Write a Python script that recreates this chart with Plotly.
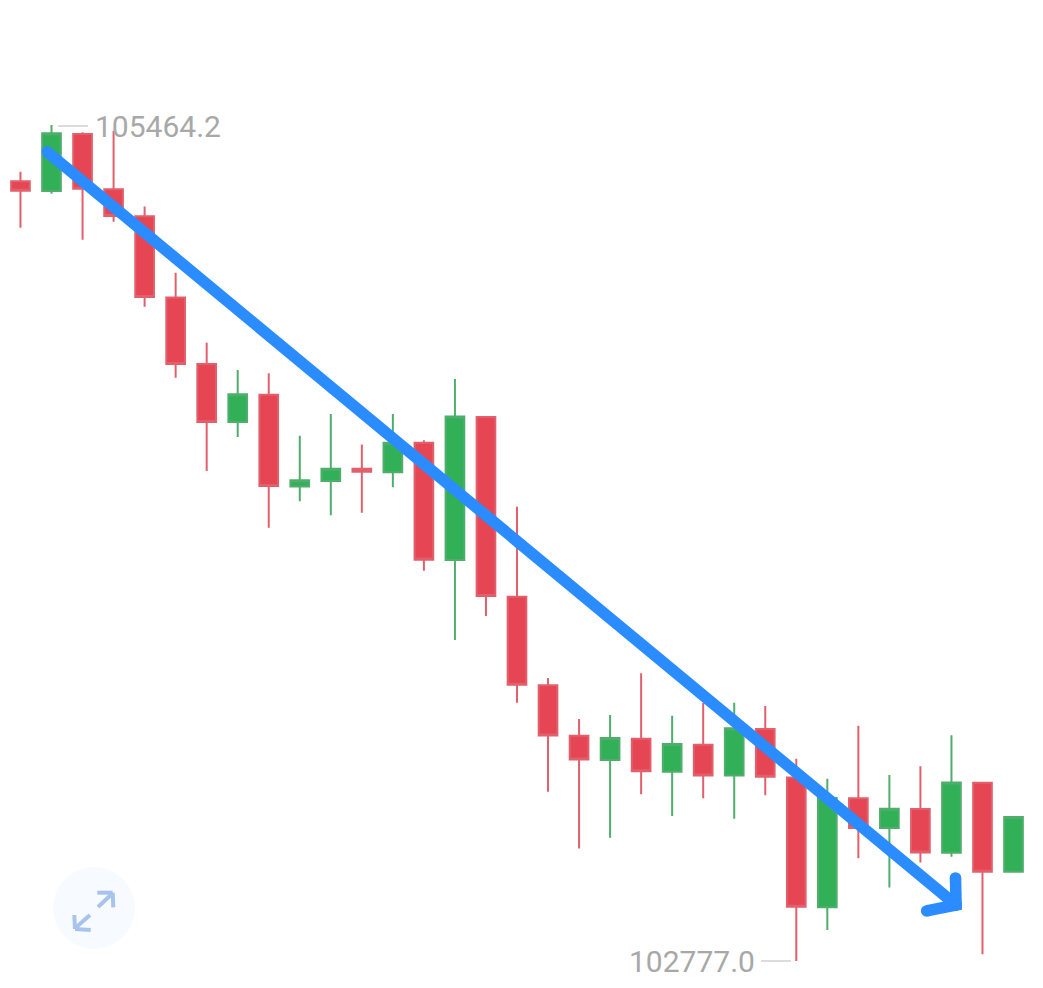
import plotly.graph_objects as go

candles = list(range(33))
opens = [105283, 105252, 105435, 105258, 105171, 104910, 104696, 104509.5, 104597, 104302, 104320,
         104359, 104348, 104443, 104066, 104526, 103948, 103663, 103501, 103423, 103491.5, 103385.5,
         103472, 103373, 103523, 103367, 102950, 103300, 103204.5, 103265.5, 103125, 103350, 103064]
highs = [105314, 105464.2, 105441, 105445, 105202, 104989, 104764, 104677, 104666, 104465.5, 104535,
         104437, 104535, 104451, 104648, 104526, 104237, 103687, 103555, 103568, 103702, 103565.5,
         103606, 103607, 103597, 103427, 103363, 103533, 103375, 103403, 103503, 103350, 103240]
lows = [105134, 105243, 105095, 105153, 104880, 104652, 104352, 104461, 104170, 104255, 104210,
        104218, 104300, 104031.5, 103809, 103886, 103607, 103321, 103139, 103173, 103313, 103243,
        103300, 103234, 103310, 102777, 102877, 103107, 103013, 103094, 103112, 102798.5, 103064]
closes = [105253, 105437.5, 105259, 105172, 104911, 104696, 104509.5, 104598.5, 104304, 104322, 104359,
          104350, 104443, 104067, 104527, 103950, 103665, 103502, 103425, 103494, 103387, 103474.5,
          103373, 103525, 103369, 102951.5, 103301, 103204.5, 103266.5, 103126, 103351, 103064, 103240]

max_label = "105464.2"
min_label = "102777.0"

# hand drawn arrow over the candles
arrow_shaft_x = [0.86, 30.15]
arrow_shaft_y = [105378, 102957]
arrow_head_x = [29.2, 30.15, 30.13]
arrow_head_y = [102938, 102957, 103044]

RED = "#e64553"
GREEN = "#32b057"
RED_EDGE = "#e2606c"
GREEN_EDGE = "#4fae6c"
BLUE = "#2b8cff"
GREY = "#a8a8a8"
W, H = 1043, 988


def px(x):
    return x / W


def py(y):
    return 1 - y / H


def seg(x0, y0, x1, y1, color, width):
    return dict(type="line", xref="paper", yref="paper", x0=px(x0), y0=py(y0), x1=px(x1), y1=py(y1),
                line=dict(color=color, width=width))


fig = go.Figure()

fig.add_trace(go.Candlestick(
    x=candles, open=opens, high=highs, low=lows, close=closes,
    increasing=dict(line=dict(color=GREEN_EDGE, width=2), fillcolor=GREEN),
    decreasing=dict(line=dict(color=RED_EDGE, width=2), fillcolor=RED),
    whiskerwidth=0,
    hoverinfo="skip",
))

fig.add_trace(go.Scatter(x=arrow_shaft_x, y=arrow_shaft_y, mode="lines+markers",
                         line=dict(color=BLUE, width=11.5), marker=dict(color=BLUE, size=11.5),
                         hoverinfo="skip"))
fig.add_trace(go.Scatter(x=arrow_head_x, y=arrow_head_y, mode="lines+markers",
                         line=dict(color=BLUE, width=11.5), marker=dict(color=BLUE, size=11.5),
                         hoverinfo="skip"))

# expand button, bottom left
icon = "#a9c4ec"
shapes = [
    dict(type="circle", xref="paper", yref="paper", x0=px(53), x1=px(135), y0=py(949), y1=py(867),
         fillcolor="#f7fbff", line=dict(width=0), layer="below"),
    seg(98, 907, 112.7, 893.3, icon, 4),
    seg(97.3, 892.7, 112.7, 892.7, icon, 4),
    seg(112.7, 892.7, 113.3, 907.3, icon, 4),
    seg(90, 915, 75, 928.3, icon, 4),
    seg(74.3, 915, 75, 929, icon, 4),
    seg(75, 929, 90.7, 930, icon, 4),
    # leader lines of the max / min labels
    seg(58, 126, 88, 126, "#d0d0d0", 1.5),
    seg(761, 961, 791, 961, "#d0d0d0", 1.5),
]

annotations = [
    dict(text=max_label, xref="paper", yref="paper", x=px(92.5), y=py(126), xanchor="left", yanchor="middle",
         showarrow=False, font=dict(family="Roboto", size=30, color=GREY)),
    dict(text=min_label, xref="paper", yref="paper", x=px(757), y=py(961), xanchor="right", yanchor="middle",
         showarrow=False, font=dict(family="Roboto", size=30, color=GREY)),
]

fig.update_layout(
    width=W, height=H,
    margin=dict(l=0, r=0, t=0, b=0),
    paper_bgcolor="white", plot_bgcolor="rgba(0,0,0,0)",
    showlegend=False,
    boxgap=0.14,
    shapes=shapes, annotations=annotations,
    xaxis=dict(visible=False, range=[-0.66, 32.95], rangeslider=dict(visible=False)),
    yaxis=dict(visible=False, range=[102690.2, 105866.0]),
)

fig.write_html("out.html", config=dict(displayModeBar=False),
               post_script="document.body.style.margin='0';")
